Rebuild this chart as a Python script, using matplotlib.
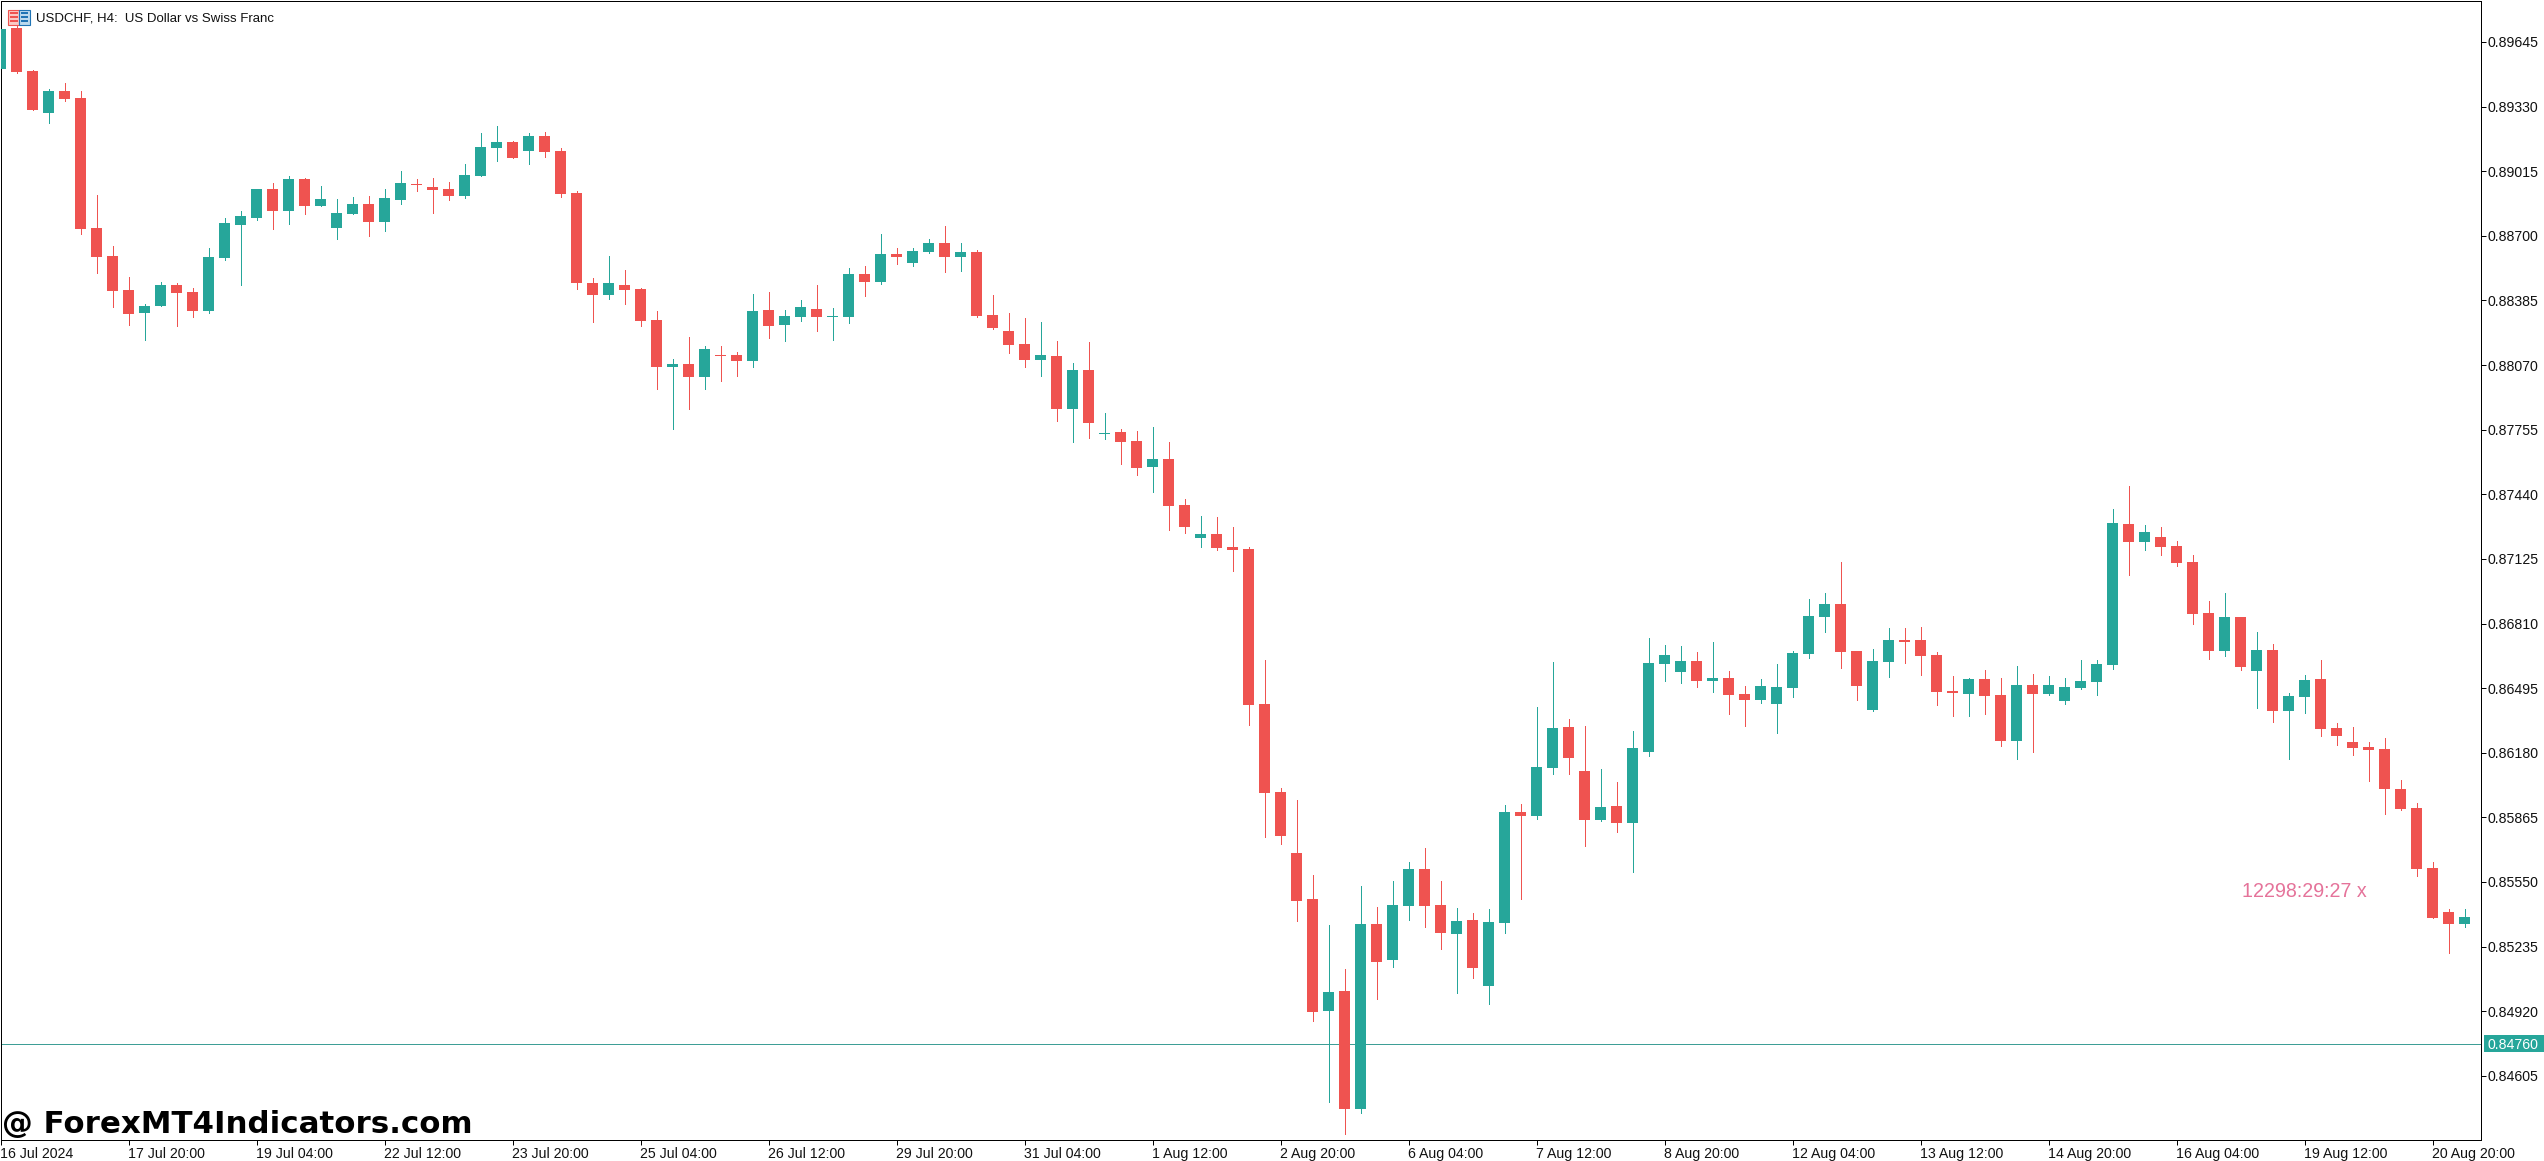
import matplotlib
matplotlib.use("Agg")
import matplotlib.pyplot as plt
from matplotlib.patches import Rectangle
from matplotlib.transforms import Affine2D

opens = [0.89514,0.89714,0.89504,0.89299,0.89406,0.89372,0.88739,0.88602,0.88436,0.88324,
0.88358,0.88461,0.88427,0.88334,0.88592,0.88753,0.88787,0.88929,0.88821,0.88977,
0.88846,0.88739,0.88807,0.88856,0.88768,0.88875,0.88953,0.88938,0.88929,0.88895,
0.88992,0.89129,0.89158,0.89114,0.89187,0.89114,0.88909,0.88470,0.88412,0.88461,
0.88441,0.88290,0.88061,0.88075,0.88012,0.88119,0.88119,0.88090,0.88339,0.88266,
0.88305,0.88344,0.88305,0.88305,0.88514,0.88475,0.88612,0.88568,0.88621,0.88665,
0.88597,0.88621,0.88314,0.88236,0.88173,0.88095,0.88114,0.87856,0.88046,0.87734,
0.87744,0.87700,0.87573,0.87612,0.87388,0.87227,0.87247,0.87183,0.87174,0.86417,
0.85988,0.85692,0.85467,0.84921,0.85019,0.84443,0.85345,0.85171,0.85434,0.85614,
0.85439,0.85296,0.85366,0.85043,0.85350,0.85891,0.85872,0.86105,0.86306,0.86091,
0.85852,0.85920,0.85838,0.86184,0.86613,0.86574,0.86628,0.86531,0.86545,0.86466,
0.86437,0.86417,0.86496,0.86662,0.86842,0.86905,0.86676,0.86387,0.86622,0.86730,
0.86730,0.86657,0.86481,0.86466,0.86540,0.86462,0.86237,0.86510,0.86466,0.86432,
0.86496,0.86525,0.86608,0.87295,0.87207,0.87232,0.87188,0.87110,0.86861,0.86676,
0.86842,0.86579,0.86681,0.86384,0.86452,0.86540,0.86301,0.86233,0.86208,0.86198,
0.86003,0.85911,0.85618,0.85404,0.85345]
highs = [0.89709,0.89723,0.89509,0.89416,0.89445,0.89406,0.88899,0.88651,0.88500,0.88368,
0.88475,0.88470,0.88446,0.88641,0.88787,0.88821,0.88929,0.88958,0.88992,0.88982,
0.88943,0.88880,0.88890,0.88895,0.88929,0.89016,0.88977,0.88982,0.88963,0.89051,
0.89202,0.89236,0.89163,0.89202,0.89207,0.89129,0.88919,0.88495,0.88602,0.88534,
0.88446,0.88334,0.88100,0.88207,0.88163,0.88163,0.88134,0.88417,0.88426,0.88339,
0.88387,0.88461,0.88349,0.88543,0.88553,0.88709,0.88641,0.88641,0.88685,0.88748,
0.88665,0.88631,0.88412,0.88324,0.88300,0.88280,0.88188,0.88080,0.88183,0.87837,
0.87759,0.87749,0.87768,0.87695,0.87417,0.87335,0.87330,0.87281,0.87183,0.86632,
0.86009,0.85950,0.85584,0.85341,0.85127,0.85532,0.85429,0.85556,0.85648,0.85716,
0.85556,0.85423,0.85399,0.85418,0.85926,0.85931,0.86404,0.86623,0.86344,0.86311,
0.86102,0.86037,0.86287,0.86740,0.86705,0.86700,0.86672,0.86720,0.86580,0.86506,
0.86540,0.86613,0.86676,0.86930,0.86959,0.87110,0.86676,0.86686,0.86788,0.86788,
0.86793,0.86671,0.86554,0.86545,0.86583,0.86545,0.86603,0.86564,0.86554,0.86545,
0.86632,0.86632,0.87368,0.87480,0.87290,0.87281,0.87212,0.87144,0.86920,0.86959,
0.86842,0.86769,0.86710,0.86471,0.86559,0.86632,0.86325,0.86306,0.86233,0.86252,
0.86047,0.85935,0.85648,0.85418,0.85418]
lows = [0.89514,0.89494,0.89314,0.89250,0.89358,0.88709,0.88519,0.88353,0.88266,0.88193,
0.88358,0.88261,0.88305,0.88324,0.88583,0.88461,0.88778,0.88734,0.88758,0.88807,
0.88846,0.88685,0.88807,0.88700,0.88724,0.88856,0.88919,0.88812,0.88875,0.88885,
0.88992,0.89065,0.89080,0.89051,0.89085,0.88890,0.88441,0.88280,0.88392,0.88368,
0.88261,0.87954,0.87759,0.87856,0.87954,0.87993,0.88017,0.88061,0.88202,0.88188,
0.88285,0.88236,0.88192,0.88275,0.88407,0.88465,0.88563,0.88553,0.88617,0.88524,
0.88529,0.88305,0.88246,0.88129,0.88061,0.88017,0.87798,0.87695,0.87715,0.87710,
0.87588,0.87534,0.87451,0.87266,0.87252,0.87183,0.87169,0.87066,0.86316,0.85770,
0.85736,0.85361,0.84872,0.84478,0.84321,0.84424,0.84980,0.85136,0.85366,0.85331,
0.85225,0.85010,0.85082,0.84956,0.85301,0.85467,0.85858,0.86077,0.86077,0.85725,
0.85847,0.85795,0.85600,0.86165,0.86531,0.86520,0.86501,0.86476,0.86369,0.86311,
0.86423,0.86276,0.86452,0.86642,0.86770,0.86593,0.86437,0.86382,0.86549,0.86618,
0.86559,0.86413,0.86359,0.86359,0.86369,0.86213,0.86150,0.86184,0.86462,0.86418,
0.86491,0.86462,0.86588,0.87047,0.87168,0.87144,0.87090,0.86808,0.86637,0.86652,
0.86584,0.86398,0.86330,0.86150,0.86374,0.86262,0.86218,0.86169,0.86042,0.85881,
0.85901,0.85579,0.85374,0.85204,0.85331]
closes = [0.89709,0.89499,0.89314,0.89406,0.89367,0.88734,0.88597,0.88431,0.88319,0.88358,
0.88461,0.88422,0.88334,0.88597,0.88763,0.88797,0.88929,0.88821,0.88977,0.88846,
0.88880,0.88812,0.88856,0.88768,0.88885,0.88958,0.88948,0.88924,0.88895,0.88997,
0.89133,0.89158,0.89080,0.89187,0.89109,0.88904,0.88470,0.88412,0.88470,0.88436,
0.88285,0.88061,0.88075,0.88012,0.88149,0.88114,0.88090,0.88334,0.88261,0.88309,
0.88353,0.88305,0.88309,0.88514,0.88475,0.88612,0.88597,0.88626,0.88665,0.88597,
0.88621,0.88309,0.88251,0.88168,0.88095,0.88119,0.87856,0.88046,0.87788,0.87739,
0.87695,0.87569,0.87612,0.87383,0.87281,0.87247,0.87179,0.87169,0.86414,0.85985,
0.85774,0.85458,0.84916,0.85014,0.84443,0.85345,0.85160,0.85439,0.85614,0.85434,
0.85301,0.85361,0.85130,0.85355,0.85891,0.85872,0.86111,0.86301,0.86154,0.85852,
0.85915,0.85838,0.86203,0.86618,0.86656,0.86628,0.86531,0.86545,0.86462,0.86437,
0.86506,0.86501,0.86667,0.86847,0.86905,0.86671,0.86506,0.86627,0.86730,0.86720,
0.86652,0.86476,0.86471,0.86540,0.86457,0.86237,0.86510,0.86466,0.86510,0.86501,
0.86530,0.86613,0.87300,0.87207,0.87256,0.87183,0.87105,0.86856,0.86676,0.86842,
0.86598,0.86681,0.86384,0.86457,0.86535,0.86296,0.86262,0.86203,0.86194,0.86003,
0.85906,0.85613,0.85374,0.85345,0.85379]

y_ticks = [0.89645,0.89330,0.89015,0.88700,0.88385,0.88070,0.87755,0.87440,0.87125,
           0.86810,0.86495,0.86180,0.85865,0.85550,0.85235,0.84920,0.84605]
x_tick_labels = ["16 Jul 2024","17 Jul 20:00","19 Jul 04:00","22 Jul 12:00","23 Jul 20:00",
                 "25 Jul 04:00","26 Jul 12:00","29 Jul 20:00","31 Jul 04:00","1 Aug 12:00",
                 "2 Aug 20:00","6 Aug 04:00","7 Aug 12:00","8 Aug 20:00","12 Aug 04:00",
                 "13 Aug 12:00","14 Aug 20:00","16 Aug 04:00","19 Aug 12:00","20 Aug 20:00"]
bid_level = 0.84760

RED = "#EF5350"
TEAL = "#26A69A"
W, H = 2544, 1161
plt.rcParams["font.family"] = ["Liberation Sans", "DejaVu Sans"]

fig = plt.figure(figsize=(W / 100, H / 100), dpi=100, facecolor="white")
left, right, top, bottom = 0.5, 2481.3, 1.0, 1139.5
ax = fig.add_axes([left / W, 1 - bottom / H, (right - left) / W, (bottom - top) / H])
ax.set_xlim(0, (right - left) / 16)
price_per_px = 4.875e-5
ax.set_ylim(0.898497 - bottom * price_per_px, 0.898497 - top * price_per_px)

xs = list(range(len(opens)))
colors = [TEAL if c >= o else RED for o, c in zip(opens, closes)]
ax.vlines(xs, lows, highs, colors=colors, linewidth=0.6, antialiased=False, zorder=2)
ax.bar(xs, [max(abs(c - o), 4e-5) for o, c in zip(opens, closes)],
       bottom=[min(o, c) for o, c in zip(opens, closes)], width=0.6875,
       color=colors, linewidth=0, antialiased=False, zorder=3)
ax.axhline(bid_level, color="#3E9E96", linewidth=0.6, antialiased=False, zorder=1)

for s in ax.spines.values():
    s.set_linewidth(0.72)
    s.set_color("black")

ax.yaxis.tick_right()
ax.set_yticks(y_ticks)
ax.set_yticklabels([f"{v:.5f}" for v in y_ticks], fontsize=10.2, color="#111111")
ax.tick_params(axis="y", length=3.6, width=0.72, pad=0.6, color="black")
ax.set_xticks(xs[::8])
ax.set_xticklabels(x_tick_labels, fontsize=10.2, ha="left", color="#111111")
ax.tick_params(axis="x", length=3.6, width=0.72, pad=1.8, color="black")

# Pixel-based overlay for the terminal furniture
px = Affine2D().scale(1, -1).translate(0, H)
fig.text(36, 18.5, "USDCHF, H4:  US Dollar vs Swiss Franc", transform=px, fontsize=9.5,
         va="center", ha="left", color="#111111")
fig.text(2, 1125, "@ ForexMT4Indicators.com", transform=px, fontsize=22.2,
         family="DejaVu Sans", fontweight="bold", va="center", ha="left", color="black")
fig.text(2242, 891.5, "12298:29:27 x", transform=px, fontsize=14.1, va="center", ha="left",
         color="#E5739A")
fig.add_artist(Rectangle((2484, 1035), 60, 16.7, transform=px, facecolor=TEAL, edgecolor="none"))
fig.text(2488, 1045, f"{bid_level:.5f}", transform=px, fontsize=10.2, va="center", ha="left",
         color="white")

# Window icon of the chart
fig.add_artist(Rectangle((8, 9.5), 11, 15, transform=px, facecolor="#F9C9C4", edgecolor=RED, linewidth=0.8))
fig.add_artist(Rectangle((19, 9.5), 10.5, 15, transform=px, facecolor="#BBD9EE", edgecolor="#1F74B5", linewidth=0.8))
for yy in (12, 16, 20):
    fig.add_artist(Rectangle((10, yy), 7.5, 2, transform=px, facecolor=RED, edgecolor="none"))
    fig.add_artist(Rectangle((20.5, yy), 7.5, 2, transform=px, facecolor="#1F74B5", edgecolor="none"))

fig.savefig("out.png", dpi=100, facecolor="white")
